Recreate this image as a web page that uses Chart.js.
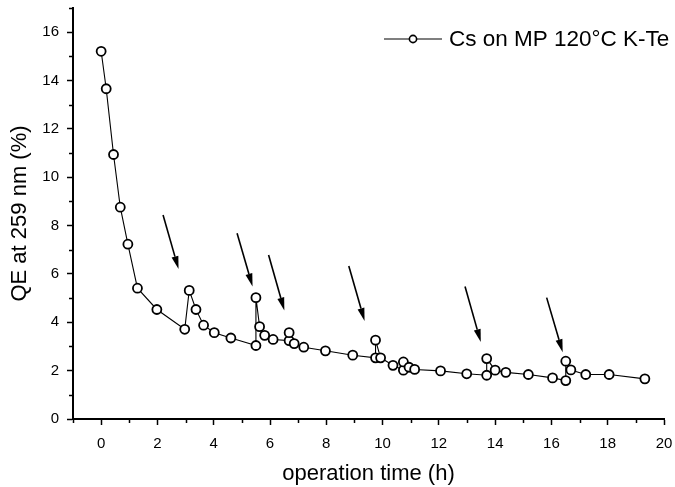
<!DOCTYPE html>
<html>
<head>
<meta charset="utf-8">
<script src="https://cdn.jsdelivr.net/npm/chart.js@4.4.1/dist/chart.umd.min.js"></script>
<style>
  html, body { margin: 0; padding: 0; background: #fff; }
  #wrap { width: 675px; height: 487px; }
</style>
</head>
<body>
<div id="wrap"><canvas id="qeChart"></canvas></div>
<script>
const seriesLabel = 'Cs on MP 120°C K-Te';

// operation time (h) and QE at 259 nm (%), in measurement order
const timeH = [0, 0.18, 0.44, 0.68, 0.95, 1.29, 1.98, 2.97, 3.13, 3.37, 3.64, 4.02, 4.61,
  5.50, 5.50, 5.63, 5.81, 6.11, 6.68, 6.68, 6.86, 7.20, 7.97, 8.94, 9.75, 9.75, 9.93,
  10.37, 10.74, 10.74, 10.94, 11.14, 12.06, 12.99, 13.70, 13.70, 14.00, 14.38, 15.18,
  16.04, 16.51, 16.51, 16.69, 17.22, 18.05, 19.32];
const qePct = [15.21, 13.66, 10.94, 8.76, 7.23, 5.41, 4.53, 3.71, 5.32, 4.53, 3.88, 3.57, 3.35,
  3.04, 5.02, 3.82, 3.46, 3.29, 3.24, 3.57, 3.12, 2.97, 2.82, 2.64, 2.53, 3.26, 2.53,
  2.22, 2.02, 2.36, 2.14, 2.05, 1.99, 1.87, 1.81, 2.50, 2.02, 1.93, 1.84,
  1.70, 1.59, 2.39, 2.03, 1.84, 1.84, 1.66];

// arrows marking re-cesiation (data units)
const arrowFromX = [2.2, 4.83, 5.95, 8.8, 12.93, 15.83];
const arrowFromY = [8.44, 7.68, 6.78, 6.33, 5.48, 5.02];
const arrowToX = [2.75, 5.38, 6.51, 9.36, 13.49, 16.4];
const arrowToY = [6.2, 5.48, 4.49, 4.05, 3.18, 2.76];

const xTickLabels = [0, 2, 4, 6, 8, 10, 12, 14, 16, 18, 20];
const yTickLabels = [0, 2, 4, 6, 8, 10, 12, 14, 16];

const FONT = 'Liberation Sans, Arial, sans-serif';

const points = timeH.map((t, i) => ({ x: t, y: qePct[i] }));

const decorations = {
  id: 'decorations',
  afterDraw(chart) {
    const { ctx, chartArea } = chart;
    const x = chart.scales.x, y = chart.scales.y;
    ctx.save();
    ctx.strokeStyle = '#000';
    ctx.fillStyle = '#000';

    // short minor ticks
    ctx.lineWidth = 1.5;
    ctx.beginPath();
    x.ticks.forEach(t => {
      if (xTickLabels.includes(t.value)) return;
      const px = Math.round(x.getPixelForValue(t.value)) + 0.5;
      ctx.moveTo(px, chartArea.bottom);
      ctx.lineTo(px, chartArea.bottom + 4);
    });
    y.ticks.forEach(t => {
      if (yTickLabels.includes(t.value)) return;
      const py = Math.round(y.getPixelForValue(t.value)) + 0.5;
      ctx.moveTo(chartArea.left, py);
      ctx.lineTo(chartArea.left - 4, py);
    });
    ctx.stroke();

    // arrows
    arrowFromX.forEach((fx, i) => {
      const x1 = x.getPixelForValue(fx), y1 = y.getPixelForValue(arrowFromY[i]);
      const x2 = x.getPixelForValue(arrowToX[i]), y2 = y.getPixelForValue(arrowToY[i]);
      const ang = Math.atan2(y2 - y1, x2 - x1);
      const head = 13, half = 3.5;
      const bx = x2 - head * Math.cos(ang), by = y2 - head * Math.sin(ang);
      ctx.lineWidth = 1.6;
      ctx.beginPath();
      ctx.moveTo(x1, y1);
      ctx.lineTo(bx, by);
      ctx.stroke();
      ctx.beginPath();
      ctx.moveTo(x2, y2);
      ctx.lineTo(bx + half * Math.sin(ang), by - half * Math.cos(ang));
      ctx.lineTo(bx - half * Math.sin(ang), by + half * Math.cos(ang));
      ctx.closePath();
      ctx.fill();
    });

    // legend
    const ly = 39, lx = 384;
    ctx.lineWidth = 1.2;
    ctx.beginPath();
    ctx.moveTo(lx, ly);
    ctx.lineTo(lx + 58, ly);
    ctx.stroke();
    ctx.beginPath();
    ctx.arc(lx + 29, ly, 3.6, 0, Math.PI * 2);
    ctx.fillStyle = '#fff';
    ctx.fill();
    ctx.lineWidth = 1.6;
    ctx.stroke();
    ctx.fillStyle = '#000';
    ctx.font = '22.5px ' + FONT;
    ctx.textBaseline = 'middle';
    ctx.textAlign = 'left';
    ctx.fillText(chart.data.datasets[0].label, lx + 65, ly + 1);
    ctx.restore();
  }
};

new Chart(document.getElementById('qeChart'), {
  type: 'scatter',
  data: {
    datasets: [{
      label: seriesLabel,
      data: points,
      showLine: true,
      borderColor: '#000',
      borderWidth: 1.1,
      pointRadius: 4.5,
      pointHoverRadius: 4.5,
      pointBorderWidth: 1.8,
      pointBackgroundColor: '#fff',
      pointBorderColor: '#000'
    }]
  },
  options: {
    responsive: true,
    maintainAspectRatio: false,
    animation: false,
    events: [],
    layout: { padding: 0 },
    plugins: { legend: { display: false }, tooltip: { enabled: false } },
    scales: {
      x: {
        type: 'linear',
        min: -1,
        max: 20,
        afterFit: s => { s.height = 68; s.paddingLeft = 0; s.paddingRight = 11; },
        border: { display: true, color: '#000', width: 2 },
        grid: {
          drawOnChartArea: false,
          tickLength: 6,
          tickWidth: 1.5,
          tickColor: c => xTickLabels.includes(c.tick.value) ? '#000' : 'rgba(0,0,0,0)'
        },
        ticks: {
          stepSize: 1,
          autoSkip: false,
          maxRotation: 0,
          padding: 10,
          color: '#000',
          font: { family: FONT, size: 15 },
          callback: v => xTickLabels.includes(v) ? String(v) : ''
        },
        title: {
          display: true,
          text: 'operation time (h)',
          color: '#000',
          font: { family: FONT, size: 22 },
          padding: { top: 0, bottom: 0 }
        }
      },
      y: {
        type: 'linear',
        min: 0,
        max: 17,
        afterFit: s => { s.width = 73; s.paddingTop = 8; s.paddingBottom = 0; },
        border: { display: true, color: '#000', width: 2 },
        grid: {
          drawOnChartArea: false,
          tickLength: 6,
          tickWidth: 1.5,
          tickColor: c => yTickLabels.includes(c.tick.value) ? '#000' : 'rgba(0,0,0,0)'
        },
        ticks: {
          stepSize: 1,
          autoSkip: false,
          padding: 8,
          color: '#000',
          font: { family: FONT, size: 15 },
          callback: v => yTickLabels.includes(v) ? String(v) : ''
        },
        title: {
          display: true,
          text: 'QE at 259 nm (%)',
          color: '#000',
          font: { family: FONT, size: 22 },
          padding: { top: 7, bottom: 0 }
        }
      }
    }
  },
  plugins: [decorations]
});
</script>
</body>
</html>
